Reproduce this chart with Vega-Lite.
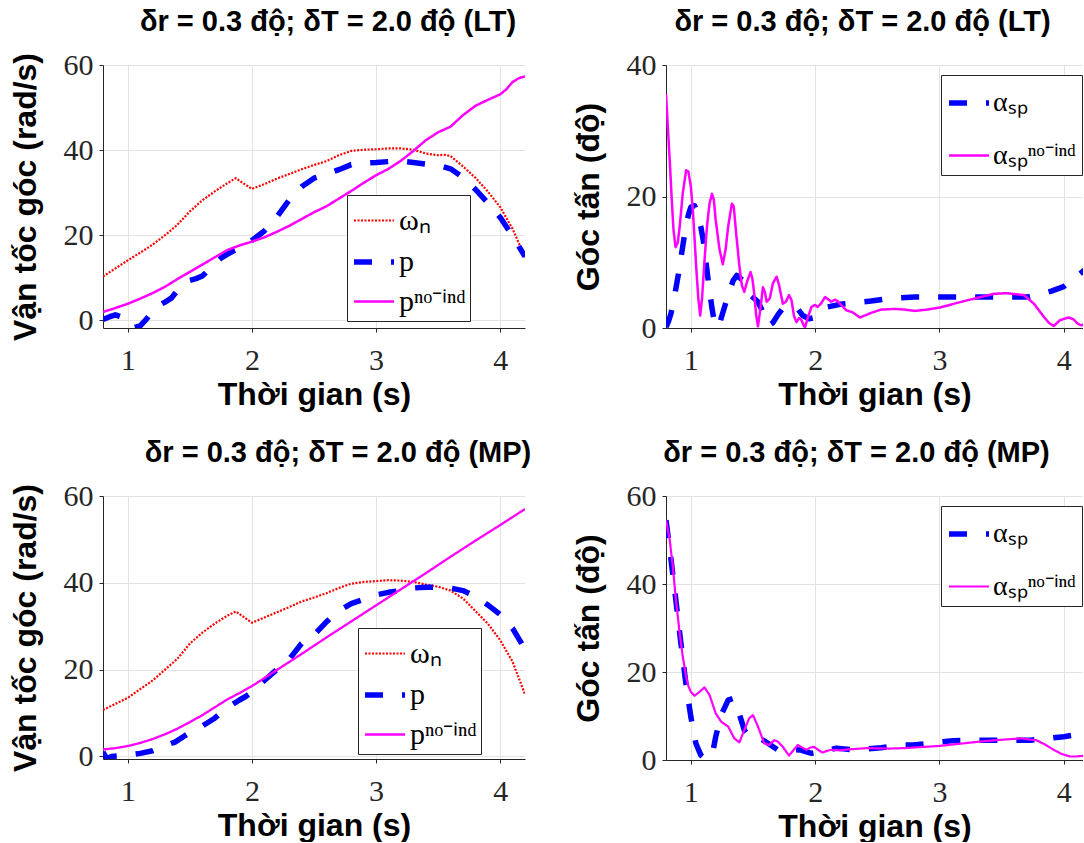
{
  "$schema": "https://vega.github.io/schema/vega-lite/v6.json",
  "autosize": {"type": "pad"},
  "padding": {"left": 8, "top": 8, "right": 0, "bottom": 0},
  "background": "white",
  "datasets": {
    "tl": [
      {"x":0.8,"y":10.3,"s":"ωₙ"},{"x":0.9,"y":12.2,"s":"ωₙ"},{"x":1.0,"y":14.1,"s":"ωₙ"},{"x":1.1,"y":15.9,"s":"ωₙ"},{"x":1.2,"y":17.8,"s":"ωₙ"},{"x":1.3,"y":20,"s":"ωₙ"},{"x":1.4,"y":22.5,"s":"ωₙ"},{"x":1.5,"y":25.6,"s":"ωₙ"},{"x":1.6,"y":28.2,"s":"ωₙ"},{"x":1.7,"y":30.3,"s":"ωₙ"},{"x":1.8,"y":32.2,"s":"ωₙ"},{"x":1.87,"y":33.4,"s":"ωₙ"},{"x":1.92,"y":32.4,"s":"ωₙ"},{"x":2.0,"y":30.9,"s":"ωₙ"},{"x":2.1,"y":32,"s":"ωₙ"},{"x":2.2,"y":33.3,"s":"ωₙ"},{"x":2.3,"y":34.4,"s":"ωₙ"},{"x":2.4,"y":35.5,"s":"ωₙ"},{"x":2.5,"y":36.5,"s":"ωₙ"},{"x":2.6,"y":37.4,"s":"ωₙ"},{"x":2.7,"y":38.8,"s":"ωₙ"},{"x":2.8,"y":39.8,"s":"ωₙ"},{"x":2.9,"y":40.1,"s":"ωₙ"},{"x":3.0,"y":40.2,"s":"ωₙ"},{"x":3.1,"y":40.4,"s":"ωₙ"},{"x":3.2,"y":40.4,"s":"ωₙ"},{"x":3.3,"y":40.1,"s":"ωₙ"},{"x":3.4,"y":39.2,"s":"ωₙ"},{"x":3.5,"y":38.8,"s":"ωₙ"},{"x":3.55,"y":38.9,"s":"ωₙ"},{"x":3.6,"y":38.6,"s":"ωₙ"},{"x":3.7,"y":36.2,"s":"ωₙ"},{"x":3.8,"y":33.5,"s":"ωₙ"},{"x":3.9,"y":30.3,"s":"ωₙ"},{"x":4.0,"y":26.6,"s":"ωₙ"},{"x":4.1,"y":21.5,"s":"ωₙ"},{"x":4.2,"y":14.8,"s":"ωₙ"},
      {"x":0.8,"y":0.2,"s":"p"},{"x":0.85,"y":0.8,"s":"p"},{"x":0.9,"y":1.3,"s":"p"},{"x":0.95,"y":0.8,"s":"p"},{"x":1.0,"y":-0.6,"s":"p"},{"x":1.05,"y":-1.7,"s":"p"},{"x":1.1,"y":-1.3,"s":"p"},{"x":1.15,"y":0.3,"s":"p"},{"x":1.2,"y":2.2,"s":"p"},{"x":1.25,"y":3.5,"s":"p"},{"x":1.3,"y":4.3,"s":"p"},{"x":1.35,"y":5.2,"s":"p"},{"x":1.4,"y":7,"s":"p"},{"x":1.45,"y":8.6,"s":"p"},{"x":1.5,"y":9.4,"s":"p"},{"x":1.55,"y":9.8,"s":"p"},{"x":1.6,"y":10.4,"s":"p"},{"x":1.65,"y":11.8,"s":"p"},{"x":1.7,"y":13.3,"s":"p"},{"x":1.75,"y":14.6,"s":"p"},{"x":1.8,"y":15.5,"s":"p"},{"x":1.85,"y":16.3,"s":"p"},{"x":1.9,"y":16.9,"s":"p"},{"x":2.0,"y":18.8,"s":"p"},{"x":2.1,"y":21,"s":"p"},{"x":2.2,"y":24.3,"s":"p"},{"x":2.3,"y":28.3,"s":"p"},{"x":2.4,"y":31.4,"s":"p"},{"x":2.5,"y":33.4,"s":"p"},{"x":2.6,"y":34.4,"s":"p"},{"x":2.7,"y":35.4,"s":"p"},{"x":2.8,"y":36.6,"s":"p"},{"x":2.9,"y":37,"s":"p"},{"x":3.0,"y":37.1,"s":"p"},{"x":3.1,"y":37.3,"s":"p"},{"x":3.2,"y":37.4,"s":"p"},{"x":3.3,"y":37.1,"s":"p"},{"x":3.4,"y":36.7,"s":"p"},{"x":3.5,"y":36.4,"s":"p"},{"x":3.6,"y":35.6,"s":"p"},{"x":3.7,"y":33.6,"s":"p"},{"x":3.8,"y":30.8,"s":"p"},{"x":3.9,"y":27.6,"s":"p"},{"x":4.0,"y":24.2,"s":"p"},{"x":4.1,"y":19.8,"s":"p"},{"x":4.2,"y":15,"s":"p"},
      {"x":0.8,"y":1.95,"s":"pⁿᵒ⁻ⁱⁿᵈ"},{"x":0.9,"y":2.9,"s":"pⁿᵒ⁻ⁱⁿᵈ"},{"x":1.0,"y":3.9,"s":"pⁿᵒ⁻ⁱⁿᵈ"},{"x":1.1,"y":5.1,"s":"pⁿᵒ⁻ⁱⁿᵈ"},{"x":1.2,"y":6.4,"s":"pⁿᵒ⁻ⁱⁿᵈ"},{"x":1.3,"y":7.9,"s":"pⁿᵒ⁻ⁱⁿᵈ"},{"x":1.4,"y":9.7,"s":"pⁿᵒ⁻ⁱⁿᵈ"},{"x":1.5,"y":11.4,"s":"pⁿᵒ⁻ⁱⁿᵈ"},{"x":1.6,"y":13.1,"s":"pⁿᵒ⁻ⁱⁿᵈ"},{"x":1.7,"y":14.8,"s":"pⁿᵒ⁻ⁱⁿᵈ"},{"x":1.8,"y":16.5,"s":"pⁿᵒ⁻ⁱⁿᵈ"},{"x":1.9,"y":17.6,"s":"pⁿᵒ⁻ⁱⁿᵈ"},{"x":2.0,"y":18.5,"s":"pⁿᵒ⁻ⁱⁿᵈ"},{"x":2.1,"y":19.5,"s":"pⁿᵒ⁻ⁱⁿᵈ"},{"x":2.2,"y":20.8,"s":"pⁿᵒ⁻ⁱⁿᵈ"},{"x":2.3,"y":22.2,"s":"pⁿᵒ⁻ⁱⁿᵈ"},{"x":2.4,"y":23.8,"s":"pⁿᵒ⁻ⁱⁿᵈ"},{"x":2.5,"y":25.4,"s":"pⁿᵒ⁻ⁱⁿᵈ"},{"x":2.6,"y":26.8,"s":"pⁿᵒ⁻ⁱⁿᵈ"},{"x":2.7,"y":28.6,"s":"pⁿᵒ⁻ⁱⁿᵈ"},{"x":2.8,"y":30.4,"s":"pⁿᵒ⁻ⁱⁿᵈ"},{"x":2.9,"y":32.3,"s":"pⁿᵒ⁻ⁱⁿᵈ"},{"x":3.0,"y":34.1,"s":"pⁿᵒ⁻ⁱⁿᵈ"},{"x":3.1,"y":35.6,"s":"pⁿᵒ⁻ⁱⁿᵈ"},{"x":3.2,"y":37.5,"s":"pⁿᵒ⁻ⁱⁿᵈ"},{"x":3.3,"y":39.8,"s":"pⁿᵒ⁻ⁱⁿᵈ"},{"x":3.4,"y":42.3,"s":"pⁿᵒ⁻ⁱⁿᵈ"},{"x":3.5,"y":44.2,"s":"pⁿᵒ⁻ⁱⁿᵈ"},{"x":3.6,"y":45.5,"s":"pⁿᵒ⁻ⁱⁿᵈ"},{"x":3.7,"y":48.2,"s":"pⁿᵒ⁻ⁱⁿᵈ"},{"x":3.8,"y":50.4,"s":"pⁿᵒ⁻ⁱⁿᵈ"},{"x":3.9,"y":51.8,"s":"pⁿᵒ⁻ⁱⁿᵈ"},{"x":4.0,"y":53.1,"s":"pⁿᵒ⁻ⁱⁿᵈ"},{"x":4.05,"y":54.3,"s":"pⁿᵒ⁻ⁱⁿᵈ"},{"x":4.1,"y":56,"s":"pⁿᵒ⁻ⁱⁿᵈ"},{"x":4.15,"y":56.9,"s":"pⁿᵒ⁻ⁱⁿᵈ"},{"x":4.2,"y":57.3,"s":"pⁿᵒ⁻ⁱⁿᵈ"}
    ],
    "tr": [
      {"x":0.8,"y":0.15,"s":"αₛₚ"},{"x":0.82,"y":1,"s":"αₛₚ"},{"x":0.84,"y":2.2,"s":"αₛₚ"},{"x":0.87,"y":5,"s":"αₛₚ"},{"x":0.9,"y":8.2,"s":"αₛₚ"},{"x":0.95,"y":14.3,"s":"αₛₚ"},{"x":0.98,"y":17.2,"s":"αₛₚ"},{"x":1.0,"y":18.4,"s":"αₛₚ"},{"x":1.03,"y":18.6,"s":"αₛₚ"},{"x":1.05,"y":17.6,"s":"αₛₚ"},{"x":1.08,"y":15.4,"s":"αₛₚ"},{"x":1.1,"y":13.3,"s":"αₛₚ"},{"x":1.14,"y":7.2,"s":"αₛₚ"},{"x":1.17,"y":3,"s":"αₛₚ"},{"x":1.19,"y":0.8,"s":"αₛₚ"},{"x":1.21,"y":0.1,"s":"αₛₚ"},{"x":1.23,"y":0.6,"s":"αₛₚ"},{"x":1.26,"y":2.5,"s":"αₛₚ"},{"x":1.3,"y":5,"s":"αₛₚ"},{"x":1.34,"y":7.2,"s":"αₛₚ"},{"x":1.37,"y":8,"s":"αₛₚ"},{"x":1.42,"y":7.2,"s":"αₛₚ"},{"x":1.48,"y":5,"s":"αₛₚ"},{"x":1.54,"y":4,"s":"αₛₚ"},{"x":1.57,"y":2.8,"s":"αₛₚ"},{"x":1.6,"y":1.4,"s":"αₛₚ"},{"x":1.63,"y":0.4,"s":"αₛₚ"},{"x":1.66,"y":0.8,"s":"αₛₚ"},{"x":1.7,"y":2,"s":"αₛₚ"},{"x":1.74,"y":3,"s":"αₛₚ"},{"x":1.81,"y":3.4,"s":"αₛₚ"},{"x":1.86,"y":2.9,"s":"αₛₚ"},{"x":1.9,"y":1.9,"s":"αₛₚ"},{"x":1.95,"y":1.4,"s":"αₛₚ"},{"x":2.0,"y":1.6,"s":"αₛₚ"},{"x":2.05,"y":2.4,"s":"αₛₚ"},{"x":2.1,"y":3.2,"s":"αₛₚ"},{"x":2.2,"y":3.6,"s":"αₛₚ"},{"x":2.3,"y":3.8,"s":"αₛₚ"},{"x":2.45,"y":4.1,"s":"αₛₚ"},{"x":2.6,"y":4.5,"s":"αₛₚ"},{"x":2.8,"y":4.7,"s":"αₛₚ"},{"x":3.0,"y":4.7,"s":"αₛₚ"},{"x":3.3,"y":4.7,"s":"αₛₚ"},{"x":3.7,"y":4.7,"s":"αₛₚ"},{"x":3.8,"y":5.1,"s":"αₛₚ"},{"x":3.9,"y":5.6,"s":"αₛₚ"},{"x":4.0,"y":6.3,"s":"αₛₚ"},{"x":4.1,"y":7.8,"s":"αₛₚ"},{"x":4.2,"y":9.3,"s":"αₛₚ"},
      {"x":0.8,"y":35.6,"s":"αₛₚⁿᵒ⁻ⁱⁿᵈ"},{"x":0.815,"y":30.5,"s":"αₛₚⁿᵒ⁻ⁱⁿᵈ"},{"x":0.83,"y":25.5,"s":"αₛₚⁿᵒ⁻ⁱⁿᵈ"},{"x":0.845,"y":20,"s":"αₛₚⁿᵒ⁻ⁱⁿᵈ"},{"x":0.86,"y":15,"s":"αₛₚⁿᵒ⁻ⁱⁿᵈ"},{"x":0.877,"y":12.3,"s":"αₛₚⁿᵒ⁻ⁱⁿᵈ"},{"x":0.895,"y":13,"s":"αₛₚⁿᵒ⁻ⁱⁿᵈ"},{"x":0.91,"y":15.4,"s":"αₛₚⁿᵒ⁻ⁱⁿᵈ"},{"x":0.935,"y":20.5,"s":"αₛₚⁿᵒ⁻ⁱⁿᵈ"},{"x":0.962,"y":24,"s":"αₛₚⁿᵒ⁻ⁱⁿᵈ"},{"x":0.98,"y":23.8,"s":"αₛₚⁿᵒ⁻ⁱⁿᵈ"},{"x":1.0,"y":21.5,"s":"αₛₚⁿᵒ⁻ⁱⁿᵈ"},{"x":1.016,"y":17.9,"s":"αₛₚⁿᵒ⁻ⁱⁿᵈ"},{"x":1.03,"y":13.5,"s":"αₛₚⁿᵒ⁻ⁱⁿᵈ"},{"x":1.043,"y":9.3,"s":"αₛₚⁿᵒ⁻ⁱⁿᵈ"},{"x":1.06,"y":4.5,"s":"αₛₚⁿᵒ⁻ⁱⁿᵈ"},{"x":1.075,"y":1.9,"s":"αₛₚⁿᵒ⁻ⁱⁿᵈ"},{"x":1.09,"y":4.5,"s":"αₛₚⁿᵒ⁻ⁱⁿᵈ"},{"x":1.11,"y":10.3,"s":"αₛₚⁿᵒ⁻ⁱⁿᵈ"},{"x":1.13,"y":15.5,"s":"αₛₚⁿᵒ⁻ⁱⁿᵈ"},{"x":1.15,"y":18.9,"s":"αₛₚⁿᵒ⁻ⁱⁿᵈ"},{"x":1.17,"y":20.4,"s":"αₛₚⁿᵒ⁻ⁱⁿᵈ"},{"x":1.185,"y":19.5,"s":"αₛₚⁿᵒ⁻ⁱⁿᵈ"},{"x":1.2,"y":16.4,"s":"αₛₚⁿᵒ⁻ⁱⁿᵈ"},{"x":1.23,"y":12,"s":"αₛₚⁿᵒ⁻ⁱⁿᵈ"},{"x":1.257,"y":9.7,"s":"αₛₚⁿᵒ⁻ⁱⁿᵈ"},{"x":1.28,"y":12,"s":"αₛₚⁿᵒ⁻ⁱⁿᵈ"},{"x":1.3,"y":15.4,"s":"αₛₚⁿᵒ⁻ⁱⁿᵈ"},{"x":1.33,"y":18.9,"s":"αₛₚⁿᵒ⁻ⁱⁿᵈ"},{"x":1.345,"y":18.5,"s":"αₛₚⁿᵒ⁻ⁱⁿᵈ"},{"x":1.365,"y":14.3,"s":"αₛₚⁿᵒ⁻ⁱⁿᵈ"},{"x":1.39,"y":9.5,"s":"αₛₚⁿᵒ⁻ⁱⁿᵈ"},{"x":1.41,"y":6.5,"s":"αₛₚⁿᵒ⁻ⁱⁿᵈ"},{"x":1.43,"y":5.5,"s":"αₛₚⁿᵒ⁻ⁱⁿᵈ"},{"x":1.455,"y":7.2,"s":"αₛₚⁿᵒ⁻ⁱⁿᵈ"},{"x":1.48,"y":8.5,"s":"αₛₚⁿᵒ⁻ⁱⁿᵈ"},{"x":1.495,"y":7.5,"s":"αₛₚⁿᵒ⁻ⁱⁿᵈ"},{"x":1.51,"y":5.2,"s":"αₛₚⁿᵒ⁻ⁱⁿᵈ"},{"x":1.525,"y":2,"s":"αₛₚⁿᵒ⁻ⁱⁿᵈ"},{"x":1.54,"y":0.25,"s":"αₛₚⁿᵒ⁻ⁱⁿᵈ"},{"x":1.56,"y":3,"s":"αₛₚⁿᵒ⁻ⁱⁿᵈ"},{"x":1.58,"y":6.2,"s":"αₛₚⁿᵒ⁻ⁱⁿᵈ"},{"x":1.595,"y":5.5,"s":"αₛₚⁿᵒ⁻ⁱⁿᵈ"},{"x":1.61,"y":4.0,"s":"αₛₚⁿᵒ⁻ⁱⁿᵈ"},{"x":1.635,"y":4.5,"s":"αₛₚⁿᵒ⁻ⁱⁿᵈ"},{"x":1.66,"y":6.8,"s":"αₛₚⁿᵒ⁻ⁱⁿᵈ"},{"x":1.69,"y":7.8,"s":"αₛₚⁿᵒ⁻ⁱⁿᵈ"},{"x":1.71,"y":6.5,"s":"αₛₚⁿᵒ⁻ⁱⁿᵈ"},{"x":1.74,"y":3.7,"s":"αₛₚⁿᵒ⁻ⁱⁿᵈ"},{"x":1.765,"y":4,"s":"αₛₚⁿᵒ⁻ⁱⁿᵈ"},{"x":1.79,"y":5.0,"s":"αₛₚⁿᵒ⁻ⁱⁿᵈ"},{"x":1.81,"y":4.2,"s":"αₛₚⁿᵒ⁻ⁱⁿᵈ"},{"x":1.83,"y":1.8,"s":"αₛₚⁿᵒ⁻ⁱⁿᵈ"},{"x":1.85,"y":0.9,"s":"αₛₚⁿᵒ⁻ⁱⁿᵈ"},{"x":1.87,"y":1.5,"s":"αₛₚⁿᵒ⁻ⁱⁿᵈ"},{"x":1.89,"y":1.2,"s":"αₛₚⁿᵒ⁻ⁱⁿᵈ"},{"x":1.91,"y":0.3,"s":"αₛₚⁿᵒ⁻ⁱⁿᵈ"},{"x":1.92,"y":0.15,"s":"αₛₚⁿᵒ⁻ⁱⁿᵈ"},{"x":1.94,"y":1.5,"s":"αₛₚⁿᵒ⁻ⁱⁿᵈ"},{"x":1.97,"y":3.2,"s":"αₛₚⁿᵒ⁻ⁱⁿᵈ"},{"x":2.0,"y":3.5,"s":"αₛₚⁿᵒ⁻ⁱⁿᵈ"},{"x":2.02,"y":3.2,"s":"αₛₚⁿᵒ⁻ⁱⁿᵈ"},{"x":2.05,"y":3.8,"s":"αₛₚⁿᵒ⁻ⁱⁿᵈ"},{"x":2.08,"y":4.7,"s":"αₛₚⁿᵒ⁻ⁱⁿᵈ"},{"x":2.11,"y":4.3,"s":"αₛₚⁿᵒ⁻ⁱⁿᵈ"},{"x":2.13,"y":4.0,"s":"αₛₚⁿᵒ⁻ⁱⁿᵈ"},{"x":2.16,"y":4.3,"s":"αₛₚⁿᵒ⁻ⁱⁿᵈ"},{"x":2.18,"y":4.1,"s":"αₛₚⁿᵒ⁻ⁱⁿᵈ"},{"x":2.21,"y":3.5,"s":"αₛₚⁿᵒ⁻ⁱⁿᵈ"},{"x":2.25,"y":2.7,"s":"αₛₚⁿᵒ⁻ⁱⁿᵈ"},{"x":2.3,"y":2.4,"s":"αₛₚⁿᵒ⁻ⁱⁿᵈ"},{"x":2.36,"y":1.6,"s":"αₛₚⁿᵒ⁻ⁱⁿᵈ"},{"x":2.4,"y":1.9,"s":"αₛₚⁿᵒ⁻ⁱⁿᵈ"},{"x":2.45,"y":2.3,"s":"αₛₚⁿᵒ⁻ⁱⁿᵈ"},{"x":2.53,"y":2.8,"s":"αₛₚⁿᵒ⁻ⁱⁿᵈ"},{"x":2.64,"y":2.9,"s":"αₛₚⁿᵒ⁻ⁱⁿᵈ"},{"x":2.72,"y":2.8,"s":"αₛₚⁿᵒ⁻ⁱⁿᵈ"},{"x":2.8,"y":2.6,"s":"αₛₚⁿᵒ⁻ⁱⁿᵈ"},{"x":2.9,"y":2.8,"s":"αₛₚⁿᵒ⁻ⁱⁿᵈ"},{"x":3.0,"y":3.1,"s":"αₛₚⁿᵒ⁻ⁱⁿᵈ"},{"x":3.1,"y":3.6,"s":"αₛₚⁿᵒ⁻ⁱⁿᵈ"},{"x":3.22,"y":4.2,"s":"αₛₚⁿᵒ⁻ⁱⁿᵈ"},{"x":3.33,"y":4.7,"s":"αₛₚⁿᵒ⁻ⁱⁿᵈ"},{"x":3.44,"y":5.2,"s":"αₛₚⁿᵒ⁻ⁱⁿᵈ"},{"x":3.54,"y":5.3,"s":"αₛₚⁿᵒ⁻ⁱⁿᵈ"},{"x":3.68,"y":5.0,"s":"αₛₚⁿᵒ⁻ⁱⁿᵈ"},{"x":3.76,"y":3.7,"s":"αₛₚⁿᵒ⁻ⁱⁿᵈ"},{"x":3.84,"y":1.7,"s":"αₛₚⁿᵒ⁻ⁱⁿᵈ"},{"x":3.88,"y":0.8,"s":"αₛₚⁿᵒ⁻ⁱⁿᵈ"},{"x":3.92,"y":0.3,"s":"αₛₚⁿᵒ⁻ⁱⁿᵈ"},{"x":3.97,"y":1.2,"s":"αₛₚⁿᵒ⁻ⁱⁿᵈ"},{"x":4.04,"y":1.6,"s":"αₛₚⁿᵒ⁻ⁱⁿᵈ"},{"x":4.08,"y":1.3,"s":"αₛₚⁿᵒ⁻ⁱⁿᵈ"},{"x":4.11,"y":0.7,"s":"αₛₚⁿᵒ⁻ⁱⁿᵈ"},{"x":4.14,"y":0.4,"s":"αₛₚⁿᵒ⁻ⁱⁿᵈ"},{"x":4.17,"y":0.6,"s":"αₛₚⁿᵒ⁻ⁱⁿᵈ"}
    ],
    "bl": [
      {"x":0.8,"y":10.7,"s":"ωₙ"},{"x":0.9,"y":12.1,"s":"ωₙ"},{"x":1.0,"y":13.5,"s":"ωₙ"},{"x":1.1,"y":15.5,"s":"ωₙ"},{"x":1.2,"y":17.5,"s":"ωₙ"},{"x":1.3,"y":20,"s":"ωₙ"},{"x":1.4,"y":22.5,"s":"ωₙ"},{"x":1.5,"y":26,"s":"ωₙ"},{"x":1.6,"y":28.5,"s":"ωₙ"},{"x":1.7,"y":30.6,"s":"ωₙ"},{"x":1.8,"y":32.4,"s":"ωₙ"},{"x":1.87,"y":33.4,"s":"ωₙ"},{"x":1.93,"y":32.2,"s":"ωₙ"},{"x":2.0,"y":30.8,"s":"ωₙ"},{"x":2.1,"y":32,"s":"ωₙ"},{"x":2.2,"y":33.2,"s":"ωₙ"},{"x":2.3,"y":34.4,"s":"ωₙ"},{"x":2.4,"y":35.7,"s":"ωₙ"},{"x":2.5,"y":36.6,"s":"ωₙ"},{"x":2.6,"y":37.6,"s":"ωₙ"},{"x":2.7,"y":38.8,"s":"ωₙ"},{"x":2.8,"y":39.8,"s":"ωₙ"},{"x":2.9,"y":40.2,"s":"ωₙ"},{"x":3.0,"y":40.4,"s":"ωₙ"},{"x":3.1,"y":40.6,"s":"ωₙ"},{"x":3.2,"y":40.5,"s":"ωₙ"},{"x":3.3,"y":40.2,"s":"ωₙ"},{"x":3.4,"y":39.6,"s":"ωₙ"},{"x":3.5,"y":39.1,"s":"ωₙ"},{"x":3.6,"y":38.2,"s":"ωₙ"},{"x":3.7,"y":36.4,"s":"ωₙ"},{"x":3.8,"y":33.5,"s":"ωₙ"},{"x":3.9,"y":30.6,"s":"ωₙ"},{"x":4.0,"y":26.8,"s":"ωₙ"},{"x":4.1,"y":21.8,"s":"ωₙ"},{"x":4.2,"y":14.3,"s":"ωₙ"},
      {"x":0.8,"y":1.0,"s":"p"},{"x":0.83,"y":-0.5,"s":"p"},{"x":0.87,"y":0,"s":"p"},{"x":0.95,"y":0.2,"s":"p"},{"x":1.0,"y":0.3,"s":"p"},{"x":1.1,"y":0.7,"s":"p"},{"x":1.2,"y":1.3,"s":"p"},{"x":1.3,"y":2.5,"s":"p"},{"x":1.38,"y":3.3,"s":"p"},{"x":1.45,"y":4.6,"s":"p"},{"x":1.5,"y":5.5,"s":"p"},{"x":1.6,"y":7,"s":"p"},{"x":1.7,"y":8.8,"s":"p"},{"x":1.8,"y":11.2,"s":"p"},{"x":1.9,"y":13,"s":"p"},{"x":1.95,"y":13.8,"s":"p"},{"x":2.0,"y":14.8,"s":"p"},{"x":2.1,"y":17.5,"s":"p"},{"x":2.2,"y":20,"s":"p"},{"x":2.3,"y":22.4,"s":"p"},{"x":2.4,"y":26,"s":"p"},{"x":2.5,"y":28,"s":"p"},{"x":2.6,"y":31,"s":"p"},{"x":2.7,"y":33.5,"s":"p"},{"x":2.8,"y":35.2,"s":"p"},{"x":2.9,"y":36.2,"s":"p"},{"x":3.0,"y":37.2,"s":"p"},{"x":3.1,"y":37.8,"s":"p"},{"x":3.2,"y":38.2,"s":"p"},{"x":3.3,"y":38.8,"s":"p"},{"x":3.4,"y":39,"s":"p"},{"x":3.5,"y":39,"s":"p"},{"x":3.6,"y":38.8,"s":"p"},{"x":3.7,"y":38.2,"s":"p"},{"x":3.8,"y":36.9,"s":"p"},{"x":3.9,"y":34.9,"s":"p"},{"x":4.0,"y":32.7,"s":"p"},{"x":4.1,"y":29.5,"s":"p"},{"x":4.2,"y":24.7,"s":"p"},
      {"x":0.8,"y":1.6,"s":"pⁿᵒ⁻ⁱⁿᵈ"},{"x":0.9,"y":1.9,"s":"pⁿᵒ⁻ⁱⁿᵈ"},{"x":1.0,"y":2.4,"s":"pⁿᵒ⁻ⁱⁿᵈ"},{"x":1.1,"y":3.1,"s":"pⁿᵒ⁻ⁱⁿᵈ"},{"x":1.2,"y":4.0,"s":"pⁿᵒ⁻ⁱⁿᵈ"},{"x":1.3,"y":5.1,"s":"pⁿᵒ⁻ⁱⁿᵈ"},{"x":1.4,"y":6.4,"s":"pⁿᵒ⁻ⁱⁿᵈ"},{"x":1.5,"y":7.9,"s":"pⁿᵒ⁻ⁱⁿᵈ"},{"x":1.6,"y":9.5,"s":"pⁿᵒ⁻ⁱⁿᵈ"},{"x":1.7,"y":11.3,"s":"pⁿᵒ⁻ⁱⁿᵈ"},{"x":1.8,"y":13.1,"s":"pⁿᵒ⁻ⁱⁿᵈ"},{"x":1.9,"y":14.6,"s":"pⁿᵒ⁻ⁱⁿᵈ"},{"x":2.0,"y":16.2,"s":"pⁿᵒ⁻ⁱⁿᵈ"},{"x":2.2,"y":19.9,"s":"pⁿᵒ⁻ⁱⁿᵈ"},{"x":2.4,"y":23.6,"s":"pⁿᵒ⁻ⁱⁿᵈ"},{"x":2.6,"y":27.4,"s":"pⁿᵒ⁻ⁱⁿᵈ"},{"x":2.8,"y":31.1,"s":"pⁿᵒ⁻ⁱⁿᵈ"},{"x":3.0,"y":34.8,"s":"pⁿᵒ⁻ⁱⁿᵈ"},{"x":3.2,"y":38.5,"s":"pⁿᵒ⁻ⁱⁿᵈ"},{"x":3.4,"y":42.2,"s":"pⁿᵒ⁻ⁱⁿᵈ"},{"x":3.6,"y":46.0,"s":"pⁿᵒ⁻ⁱⁿᵈ"},{"x":3.8,"y":49.7,"s":"pⁿᵒ⁻ⁱⁿᵈ"},{"x":4.0,"y":53.3,"s":"pⁿᵒ⁻ⁱⁿᵈ"},{"x":4.2,"y":57.0,"s":"pⁿᵒ⁻ⁱⁿᵈ"}
    ],
    "br": [
      {"x":0.8,"y":54.5,"s":"αₛₚ"},{"x":0.83,"y":48,"s":"αₛₚ"},{"x":0.87,"y":38.6,"s":"αₛₚ"},{"x":0.92,"y":26.5,"s":"αₛₚ"},{"x":0.96,"y":17.4,"s":"αₛₚ"},{"x":1.0,"y":9.8,"s":"αₛₚ"},{"x":1.04,"y":3.8,"s":"αₛₚ"},{"x":1.08,"y":1.1,"s":"αₛₚ"},{"x":1.12,"y":0.15,"s":"αₛₚ"},{"x":1.15,"y":0.6,"s":"αₛₚ"},{"x":1.18,"y":2.3,"s":"αₛₚ"},{"x":1.2,"y":5.3,"s":"αₛₚ"},{"x":1.244,"y":10.2,"s":"αₛₚ"},{"x":1.3,"y":13.6,"s":"αₛₚ"},{"x":1.34,"y":14,"s":"αₛₚ"},{"x":1.38,"y":11.4,"s":"αₛₚ"},{"x":1.43,"y":6.8,"s":"αₛₚ"},{"x":1.47,"y":5.3,"s":"αₛₚ"},{"x":1.53,"y":5.3,"s":"αₛₚ"},{"x":1.58,"y":4.5,"s":"αₛₚ"},{"x":1.62,"y":3.8,"s":"αₛₚ"},{"x":1.7,"y":2.3,"s":"αₛₚ"},{"x":1.78,"y":2.4,"s":"αₛₚ"},{"x":1.88,"y":2.3,"s":"αₛₚ"},{"x":1.97,"y":1.5,"s":"αₛₚ"},{"x":2.05,"y":1.9,"s":"αₛₚ"},{"x":2.17,"y":2.7,"s":"αₛₚ"},{"x":2.31,"y":2.3,"s":"αₛₚ"},{"x":2.53,"y":2.8,"s":"αₛₚ"},{"x":2.72,"y":3.4,"s":"αₛₚ"},{"x":2.79,"y":3.4,"s":"αₛₚ"},{"x":3.11,"y":4.4,"s":"αₛₚ"},{"x":3.41,"y":4.5,"s":"αₛₚ"},{"x":3.73,"y":4.5,"s":"αₛₚ"},{"x":4.0,"y":5.3,"s":"αₛₚ"},{"x":4.2,"y":6.2,"s":"αₛₚ"},
      {"x":0.8,"y":54.5,"s":"αₛₚⁿᵒ⁻ⁱⁿᵈ"},{"x":0.83,"y":50,"s":"αₛₚⁿᵒ⁻ⁱⁿᵈ"},{"x":0.855,"y":43.9,"s":"αₛₚⁿᵒ⁻ⁱⁿᵈ"},{"x":0.88,"y":36.4,"s":"αₛₚⁿᵒ⁻ⁱⁿᵈ"},{"x":0.91,"y":28.8,"s":"αₛₚⁿᵒ⁻ⁱⁿᵈ"},{"x":0.935,"y":23.5,"s":"αₛₚⁿᵒ⁻ⁱⁿᵈ"},{"x":0.962,"y":18.9,"s":"αₛₚⁿᵒ⁻ⁱⁿᵈ"},{"x":0.98,"y":16.8,"s":"αₛₚⁿᵒ⁻ⁱⁿᵈ"},{"x":1.0,"y":15.5,"s":"αₛₚⁿᵒ⁻ⁱⁿᵈ"},{"x":1.03,"y":14.6,"s":"αₛₚⁿᵒ⁻ⁱⁿᵈ"},{"x":1.07,"y":15.5,"s":"αₛₚⁿᵒ⁻ⁱⁿᵈ"},{"x":1.11,"y":16.5,"s":"αₛₚⁿᵒ⁻ⁱⁿᵈ"},{"x":1.15,"y":14.8,"s":"αₛₚⁿᵒ⁻ⁱⁿᵈ"},{"x":1.2,"y":10.6,"s":"αₛₚⁿᵒ⁻ⁱⁿᵈ"},{"x":1.244,"y":8.7,"s":"αₛₚⁿᵒ⁻ⁱⁿᵈ"},{"x":1.3,"y":7.6,"s":"αₛₚⁿᵒ⁻ⁱⁿᵈ"},{"x":1.35,"y":4.9,"s":"αₛₚⁿᵒ⁻ⁱⁿᵈ"},{"x":1.39,"y":4.0,"s":"αₛₚⁿᵒ⁻ⁱⁿᵈ"},{"x":1.43,"y":6.8,"s":"αₛₚⁿᵒ⁻ⁱⁿᵈ"},{"x":1.47,"y":9.5,"s":"αₛₚⁿᵒ⁻ⁱⁿᵈ"},{"x":1.5,"y":10.2,"s":"αₛₚⁿᵒ⁻ⁱⁿᵈ"},{"x":1.54,"y":7.6,"s":"αₛₚⁿᵒ⁻ⁱⁿᵈ"},{"x":1.59,"y":3.8,"s":"αₛₚⁿᵒ⁻ⁱⁿᵈ"},{"x":1.63,"y":3.4,"s":"αₛₚⁿᵒ⁻ⁱⁿᵈ"},{"x":1.67,"y":4.5,"s":"αₛₚⁿᵒ⁻ⁱⁿᵈ"},{"x":1.7,"y":4.2,"s":"αₛₚⁿᵒ⁻ⁱⁿᵈ"},{"x":1.74,"y":3.0,"s":"αₛₚⁿᵒ⁻ⁱⁿᵈ"},{"x":1.79,"y":1.0,"s":"αₛₚⁿᵒ⁻ⁱⁿᵈ"},{"x":1.83,"y":2.4,"s":"αₛₚⁿᵒ⁻ⁱⁿᵈ"},{"x":1.86,"y":3.4,"s":"αₛₚⁿᵒ⁻ⁱⁿᵈ"},{"x":1.9,"y":2.8,"s":"αₛₚⁿᵒ⁻ⁱⁿᵈ"},{"x":1.93,"y":2.3,"s":"αₛₚⁿᵒ⁻ⁱⁿᵈ"},{"x":1.96,"y":2.8,"s":"αₛₚⁿᵒ⁻ⁱⁿᵈ"},{"x":1.99,"y":3.0,"s":"αₛₚⁿᵒ⁻ⁱⁿᵈ"},{"x":2.03,"y":2.2,"s":"αₛₚⁿᵒ⁻ⁱⁿᵈ"},{"x":2.06,"y":1.7,"s":"αₛₚⁿᵒ⁻ⁱⁿᵈ"},{"x":2.1,"y":2.1,"s":"αₛₚⁿᵒ⁻ⁱⁿᵈ"},{"x":2.13,"y":2.3,"s":"αₛₚⁿᵒ⁻ⁱⁿᵈ"},{"x":2.2,"y":2.2,"s":"αₛₚⁿᵒ⁻ⁱⁿᵈ"},{"x":2.26,"y":2.4,"s":"αₛₚⁿᵒ⁻ⁱⁿᵈ"},{"x":2.42,"y":2.7,"s":"αₛₚⁿᵒ⁻ⁱⁿᵈ"},{"x":2.6,"y":2.6,"s":"αₛₚⁿᵒ⁻ⁱⁿᵈ"},{"x":2.72,"y":2.7,"s":"αₛₚⁿᵒ⁻ⁱⁿᵈ"},{"x":3.0,"y":3.2,"s":"αₛₚⁿᵒ⁻ⁱⁿᵈ"},{"x":3.33,"y":4.2,"s":"αₛₚⁿᵒ⁻ⁱⁿᵈ"},{"x":3.5,"y":4.6,"s":"αₛₚⁿᵒ⁻ⁱⁿᵈ"},{"x":3.65,"y":4.9,"s":"αₛₚⁿᵒ⁻ⁱⁿᵈ"},{"x":3.78,"y":4.5,"s":"αₛₚⁿᵒ⁻ⁱⁿᵈ"},{"x":3.85,"y":3.5,"s":"αₛₚⁿᵒ⁻ⁱⁿᵈ"},{"x":3.92,"y":2.3,"s":"αₛₚⁿᵒ⁻ⁱⁿᵈ"},{"x":3.98,"y":1.4,"s":"αₛₚⁿᵒ⁻ⁱⁿᵈ"},{"x":4.05,"y":0.8,"s":"αₛₚⁿᵒ⁻ⁱⁿᵈ"},{"x":4.1,"y":0.8,"s":"αₛₚⁿᵒ⁻ⁱⁿᵈ"},{"x":4.17,"y":1.0,"s":"αₛₚⁿᵒ⁻ⁱⁿᵈ"}
    ]
  },
  "columns": 2,
  "spacing": {"row": 168, "column": 141},
  "bounds": "flush",
  "resolve": {
    "scale": {"x": "independent", "y": "independent", "color": "independent", "strokeDash": "independent", "strokeWidth": "independent"},
    "axis": {"x": "independent", "y": "independent"},
    "legend": {"color": "independent", "strokeDash": "independent", "strokeWidth": "independent"}
  },
  "concat": [
    {
      "width": 422, "height": 263,
      "title": {"text": "δr = 0.3 độ; δT = 2.0 độ (LT)", "dx": 14},
      "data": {"name": "tl"},
      "encoding": {
        "x": {"field": "x", "type": "quantitative", "scale": {"domain": [0.8, 4.2], "nice": false, "zero": false}, "axis": {"title": "Thời gian (s)", "values": [1, 2, 3, 4]}},
        "y": {"field": "y", "type": "quantitative", "scale": {"domain": [-1.8, 60], "nice": false, "zero": false}, "axis": {"title": "Vận tốc góc (rad/s)", "values": [0, 20, 40, 60]}},
        "color": {"field": "s", "type": "nominal", "scale": {"domain": ["ωₙ", "p", "pⁿᵒ⁻ⁱⁿᵈ"], "range": ["#ff0000", "#0000ff", "#ff00ff"]}, "legend": {"orient": "none", "legendX": 244, "legendY": 130, "title": null}},
        "strokeDash": {"field": "s", "type": "nominal", "scale": {"domain": ["ωₙ", "p", "pⁿᵒ⁻ⁱⁿᵈ"], "range": [[2, 1.5], [18, 19], [1, 0]]}},
        "strokeWidth": {"field": "s", "type": "nominal", "scale": {"type": "ordinal", "domain": ["ωₙ", "p", "pⁿᵒ⁻ⁱⁿᵈ"], "range": [2.2, 5.5, 2.5]}}
      },
      "layer": [
        {"transform": [{"filter": "datum.s === 'ωₙ'"}], "mark": {"type": "line", "clip": true}},
        {"transform": [{"filter": "datum.s === 'p'"}], "mark": {"type": "line", "clip": true}},
        {"transform": [{"filter": "datum.s === 'pⁿᵒ⁻ⁱⁿᵈ'"}], "mark": {"type": "line", "clip": true}}
      ]
    },
    {
      "width": 417, "height": 263,
      "title": {"text": "δr = 0.3 độ; δT = 2.0 độ (LT)", "dx": -12},
      "data": {"name": "tr"},
      "encoding": {
        "x": {"field": "x", "type": "quantitative", "scale": {"domain": [0.8, 4.155], "nice": false, "zero": false}, "axis": {"title": "Thời gian (s)", "values": [1, 2, 3, 4]}},
        "y": {"field": "y", "type": "quantitative", "scale": {"domain": [0, 40], "nice": false, "zero": false}, "axis": {"title": "Góc tấn (độ)", "values": [0, 20, 40]}},
        "color": {"field": "s", "type": "nominal", "scale": {"domain": ["αₛₚ", "αₛₚⁿᵒ⁻ⁱⁿᵈ"], "range": ["#0000ff", "#ff00ff"]}, "legend": {"orient": "none", "legendX": 275, "legendY": 10, "title": null, "rowPadding": 17, "labelFontSize": 28, "labelOffset": 1, "padding": 5}},
        "strokeDash": {"field": "s", "type": "nominal", "scale": {"domain": ["αₛₚ", "αₛₚⁿᵒ⁻ⁱⁿᵈ"], "range": [[18, 19], [1, 0]]}},
        "strokeWidth": {"field": "s", "type": "nominal", "scale": {"type": "ordinal", "domain": ["αₛₚ", "αₛₚⁿᵒ⁻ⁱⁿᵈ"], "range": [5.5, 2.5]}}
      },
      "layer": [
        {"transform": [{"filter": "datum.s === 'αₛₚ'"}], "mark": {"type": "line", "clip": true}},
        {"transform": [{"filter": "datum.s === 'αₛₚⁿᵒ⁻ⁱⁿᵈ'"}], "mark": {"type": "line", "clip": true}}
      ]
    },
    {
      "width": 422, "height": 263,
      "title": {"text": "δr = 0.3 độ; δT = 2.0 độ (MP)", "dx": 24},
      "data": {"name": "bl"},
      "encoding": {
        "x": {"field": "x", "type": "quantitative", "scale": {"domain": [0.8, 4.2], "nice": false, "zero": false}, "axis": {"title": "Thời gian (s)", "values": [1, 2, 3, 4]}},
        "y": {"field": "y", "type": "quantitative", "scale": {"domain": [-0.6, 60], "nice": false, "zero": false}, "axis": {"title": "Vận tốc góc (rad/s)", "values": [0, 20, 40, 60]}},
        "color": {"field": "s", "type": "nominal", "scale": {"domain": ["ωₙ", "p", "pⁿᵒ⁻ⁱⁿᵈ"], "range": ["#ff0000", "#0000ff", "#ff00ff"]}, "legend": {"orient": "none", "legendX": 255, "legendY": 132, "title": null}},
        "strokeDash": {"field": "s", "type": "nominal", "scale": {"domain": ["ωₙ", "p", "pⁿᵒ⁻ⁱⁿᵈ"], "range": [[2, 1.5], [18, 19], [1, 0]]}},
        "strokeWidth": {"field": "s", "type": "nominal", "scale": {"type": "ordinal", "domain": ["ωₙ", "p", "pⁿᵒ⁻ⁱⁿᵈ"], "range": [2.2, 5.5, 2.3]}}
      },
      "layer": [
        {"transform": [{"filter": "datum.s === 'ωₙ'"}], "mark": {"type": "line", "clip": true}},
        {"transform": [{"filter": "datum.s === 'p'"}], "mark": {"type": "line", "clip": true}},
        {"transform": [{"filter": "datum.s === 'pⁿᵒ⁻ⁱⁿᵈ'"}], "mark": {"type": "line", "clip": true}}
      ]
    },
    {
      "width": 417, "height": 264,
      "title": {"text": "δr = 0.3 độ; δT = 2.0 độ (MP)", "dx": -18},
      "data": {"name": "br"},
      "encoding": {
        "x": {"field": "x", "type": "quantitative", "scale": {"domain": [0.8, 4.155], "nice": false, "zero": false}, "axis": {"title": "Thời gian (s)", "values": [1, 2, 3, 4]}},
        "y": {"field": "y", "type": "quantitative", "scale": {"domain": [0, 60], "nice": false, "zero": false}, "axis": {"title": "Góc tấn (độ)", "values": [0, 20, 40, 60]}},
        "color": {"field": "s", "type": "nominal", "scale": {"domain": ["αₛₚ", "αₛₚⁿᵒ⁻ⁱⁿᵈ"], "range": ["#0000ff", "#ff00ff"]}, "legend": {"orient": "none", "legendX": 275, "legendY": 10, "title": null, "rowPadding": 17, "labelFontSize": 28, "labelOffset": 1, "padding": 5}},
        "strokeDash": {"field": "s", "type": "nominal", "scale": {"domain": ["αₛₚ", "αₛₚⁿᵒ⁻ⁱⁿᵈ"], "range": [[18, 19], [1, 0]]}},
        "strokeWidth": {"field": "s", "type": "nominal", "scale": {"type": "ordinal", "domain": ["αₛₚ", "αₛₚⁿᵒ⁻ⁱⁿᵈ"], "range": [5.5, 2.2]}}
      },
      "layer": [
        {"transform": [{"filter": "datum.s === 'αₛₚ'"}], "mark": {"type": "line", "clip": true}},
        {"transform": [{"filter": "datum.s === 'αₛₚⁿᵒ⁻ⁱⁿᵈ'"}], "mark": {"type": "line", "clip": true}}
      ]
    }
  ],
  "config": {
    "view": {"stroke": null},
    "line": {"strokeCap": "butt", "strokeJoin": "round"},
    "axis": {
      "labelFont": "Liberation Serif", "labelFontSize": 30, "labelColor": "#262626",
      "titleFont": "Liberation Sans", "titleFontSize": 32, "titleFontWeight": "bold", "titleColor": "#000000",
      "domainColor": "#262626", "domainWidth": 1, "tickColor": "#262626", "tickSize": 4, "tickWidth": 1,
      "gridColor": "#e3e3e3", "gridWidth": 1, "grid": true, "labelFlush": false, "labelOverlap": false,
      "format": "d"
    },
    "axisX": {"labelPadding": 13, "titlePadding": 4},
    "axisY": {"labelPadding": 6, "titlePadding": 21},
    "title": {"font": "Liberation Sans", "fontSize": 29, "fontWeight": "bold", "color": "#000000", "frame": "group", "baseline": "alphabetic", "offset": 13, "anchor": "middle"},
    "legend": {
      "strokeColor": "#262626", "fillColor": "#ffffff", "padding": 4, "cornerRadius": 0,
      "symbolType": "stroke", "symbolSize": 1600, "labelFont": "Liberation Serif", "labelFontSize": 30, "labelColor": "#000000",
      "labelOffset": 2, "rowPadding": 3, "labelLimit": 300
    }
  }
}
